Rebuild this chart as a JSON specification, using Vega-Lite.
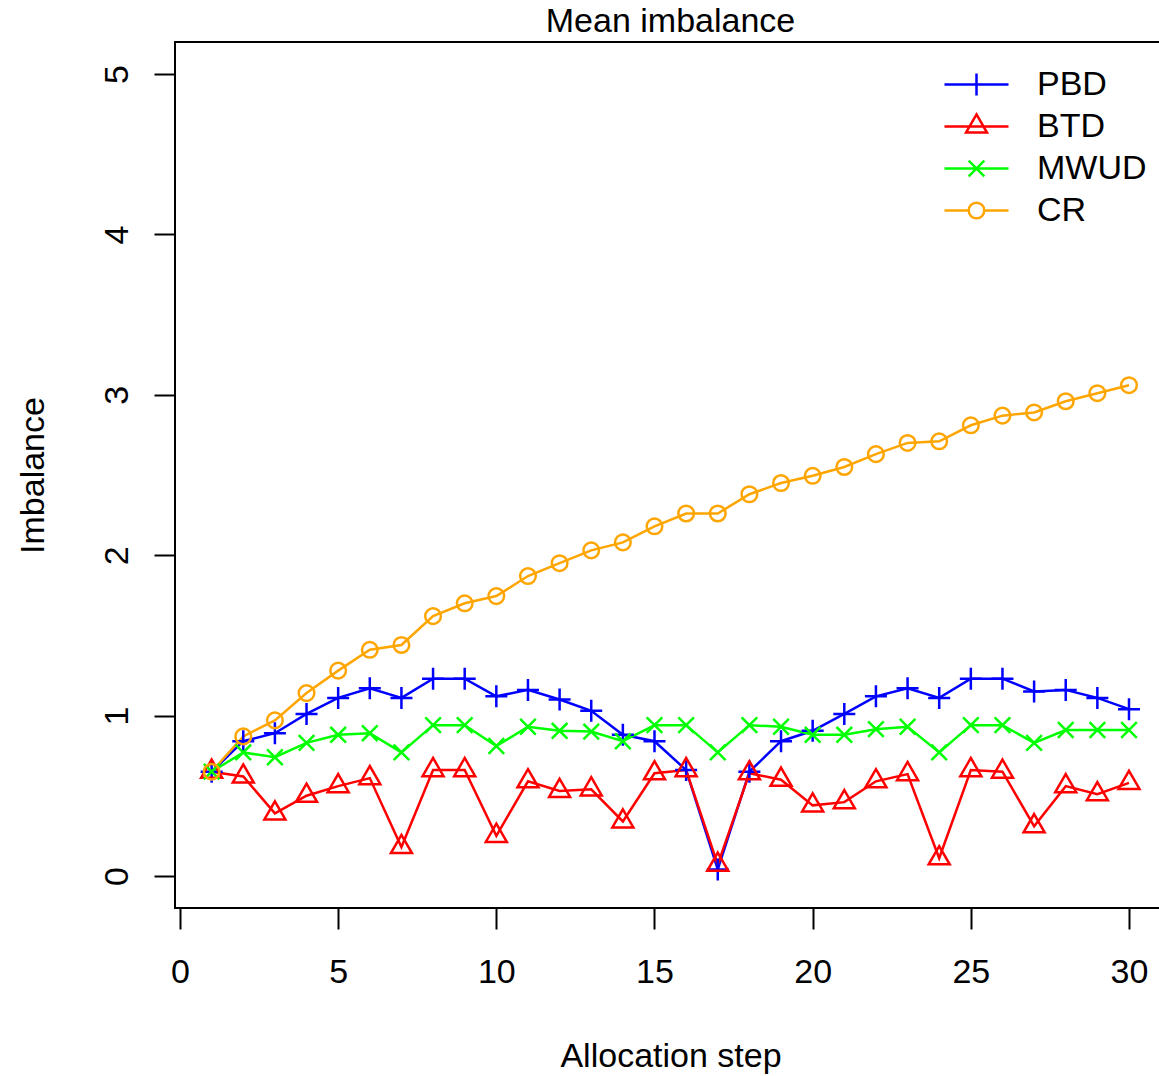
{
  "$schema": "https://vega.github.io/schema/vega-lite/v6.json",
  "autosize": "none",
  "width": 985,
  "height": 866,
  "padding": {"left": 175, "top": 42, "right": 0, "bottom": 168},
  "background": "white",
  "title": {"text": "Mean imbalance", "fontSize": 34, "fontWeight": "normal", "font": "Liberation Sans", "color": "black", "baseline": "alphabetic", "offset": -24, "dx": 3, "anchor": "middle", "frame": "group"},
  "config": {
    "font": "Liberation Sans",
    "view": {"stroke": "black", "strokeWidth": 2, "fill": "white"},
    "axis": {"grid": false, "domain": false, "tickColor": "black", "tickWidth": 2, "tickSize": 21, "labelColor": "black", "labelFontSize": 34, "labelFont": "Liberation Sans", "titleColor": "black", "titleFontSize": 34, "titleFont": "Liberation Sans", "titleFontWeight": "normal", "labelOverlap": false, "labelFlush": false}
  },
  "data": {"values": [
    {"step": 1, "series": "PBD", "value": 0.65}, {"step": 2, "series": "PBD", "value": 0.84}, {"step": 3, "series": "PBD", "value": 0.89}, {"step": 4, "series": "PBD", "value": 1.01}, {"step": 5, "series": "PBD", "value": 1.11},
    {"step": 6, "series": "PBD", "value": 1.17}, {"step": 7, "series": "PBD", "value": 1.11}, {"step": 8, "series": "PBD", "value": 1.23}, {"step": 9, "series": "PBD", "value": 1.23}, {"step": 10, "series": "PBD", "value": 1.12},
    {"step": 11, "series": "PBD", "value": 1.16}, {"step": 12, "series": "PBD", "value": 1.10}, {"step": 13, "series": "PBD", "value": 1.03}, {"step": 14, "series": "PBD", "value": 0.88}, {"step": 15, "series": "PBD", "value": 0.84},
    {"step": 16, "series": "PBD", "value": 0.66}, {"step": 17, "series": "PBD", "value": 0.04}, {"step": 18, "series": "PBD", "value": 0.65}, {"step": 19, "series": "PBD", "value": 0.84}, {"step": 20, "series": "PBD", "value": 0.905},
    {"step": 21, "series": "PBD", "value": 1.01}, {"step": 22, "series": "PBD", "value": 1.12}, {"step": 23, "series": "PBD", "value": 1.17}, {"step": 24, "series": "PBD", "value": 1.11}, {"step": 25, "series": "PBD", "value": 1.23},
    {"step": 26, "series": "PBD", "value": 1.23}, {"step": 27, "series": "PBD", "value": 1.15}, {"step": 28, "series": "PBD", "value": 1.16}, {"step": 29, "series": "PBD", "value": 1.11}, {"step": 30, "series": "PBD", "value": 1.04},
    {"step": 1, "series": "BTD", "value": 0.65}, {"step": 2, "series": "BTD", "value": 0.62}, {"step": 3, "series": "BTD", "value": 0.39}, {"step": 4, "series": "BTD", "value": 0.50}, {"step": 5, "series": "BTD", "value": 0.56},
    {"step": 6, "series": "BTD", "value": 0.61}, {"step": 7, "series": "BTD", "value": 0.18}, {"step": 8, "series": "BTD", "value": 0.66}, {"step": 9, "series": "BTD", "value": 0.66}, {"step": 10, "series": "BTD", "value": 0.25},
    {"step": 11, "series": "BTD", "value": 0.59}, {"step": 12, "series": "BTD", "value": 0.53}, {"step": 13, "series": "BTD", "value": 0.54}, {"step": 14, "series": "BTD", "value": 0.34}, {"step": 15, "series": "BTD", "value": 0.64},
    {"step": 16, "series": "BTD", "value": 0.66}, {"step": 17, "series": "BTD", "value": 0.07}, {"step": 18, "series": "BTD", "value": 0.64}, {"step": 19, "series": "BTD", "value": 0.60}, {"step": 20, "series": "BTD", "value": 0.44},
    {"step": 21, "series": "BTD", "value": 0.46}, {"step": 22, "series": "BTD", "value": 0.59}, {"step": 23, "series": "BTD", "value": 0.635}, {"step": 24, "series": "BTD", "value": 0.11}, {"step": 25, "series": "BTD", "value": 0.66},
    {"step": 26, "series": "BTD", "value": 0.65}, {"step": 27, "series": "BTD", "value": 0.31}, {"step": 28, "series": "BTD", "value": 0.56}, {"step": 29, "series": "BTD", "value": 0.51}, {"step": 30, "series": "BTD", "value": 0.58},
    {"step": 1, "series": "MWUD", "value": 0.65}, {"step": 2, "series": "MWUD", "value": 0.77}, {"step": 3, "series": "MWUD", "value": 0.74}, {"step": 4, "series": "MWUD", "value": 0.83}, {"step": 5, "series": "MWUD", "value": 0.88},
    {"step": 6, "series": "MWUD", "value": 0.89}, {"step": 7, "series": "MWUD", "value": 0.77}, {"step": 8, "series": "MWUD", "value": 0.94}, {"step": 9, "series": "MWUD", "value": 0.94}, {"step": 10, "series": "MWUD", "value": 0.81},
    {"step": 11, "series": "MWUD", "value": 0.93}, {"step": 12, "series": "MWUD", "value": 0.905}, {"step": 13, "series": "MWUD", "value": 0.90}, {"step": 14, "series": "MWUD", "value": 0.84}, {"step": 15, "series": "MWUD", "value": 0.94},
    {"step": 16, "series": "MWUD", "value": 0.94}, {"step": 17, "series": "MWUD", "value": 0.77}, {"step": 18, "series": "MWUD", "value": 0.94}, {"step": 19, "series": "MWUD", "value": 0.93}, {"step": 20, "series": "MWUD", "value": 0.88},
    {"step": 21, "series": "MWUD", "value": 0.88}, {"step": 22, "series": "MWUD", "value": 0.915}, {"step": 23, "series": "MWUD", "value": 0.93}, {"step": 24, "series": "MWUD", "value": 0.77}, {"step": 25, "series": "MWUD", "value": 0.94},
    {"step": 26, "series": "MWUD", "value": 0.94}, {"step": 27, "series": "MWUD", "value": 0.83}, {"step": 28, "series": "MWUD", "value": 0.91}, {"step": 29, "series": "MWUD", "value": 0.91}, {"step": 30, "series": "MWUD", "value": 0.91},
    {"step": 1, "series": "CR", "value": 0.65}, {"step": 2, "series": "CR", "value": 0.87}, {"step": 3, "series": "CR", "value": 0.97}, {"step": 4, "series": "CR", "value": 1.14}, {"step": 5, "series": "CR", "value": 1.28},
    {"step": 6, "series": "CR", "value": 1.41}, {"step": 7, "series": "CR", "value": 1.44}, {"step": 8, "series": "CR", "value": 1.62}, {"step": 9, "series": "CR", "value": 1.70}, {"step": 10, "series": "CR", "value": 1.745},
    {"step": 11, "series": "CR", "value": 1.87}, {"step": 12, "series": "CR", "value": 1.95}, {"step": 13, "series": "CR", "value": 2.03}, {"step": 14, "series": "CR", "value": 2.08}, {"step": 15, "series": "CR", "value": 2.18},
    {"step": 16, "series": "CR", "value": 2.26}, {"step": 17, "series": "CR", "value": 2.26}, {"step": 18, "series": "CR", "value": 2.38}, {"step": 19, "series": "CR", "value": 2.45}, {"step": 20, "series": "CR", "value": 2.495},
    {"step": 21, "series": "CR", "value": 2.55}, {"step": 22, "series": "CR", "value": 2.63}, {"step": 23, "series": "CR", "value": 2.70}, {"step": 24, "series": "CR", "value": 2.71}, {"step": 25, "series": "CR", "value": 2.81},
    {"step": 26, "series": "CR", "value": 2.87}, {"step": 27, "series": "CR", "value": 2.89}, {"step": 28, "series": "CR", "value": 2.96}, {"step": 29, "series": "CR", "value": 3.01}, {"step": 30, "series": "CR", "value": 3.06}
  ]},
  "encoding": {
    "x": {"field": "step", "type": "quantitative", "scale": {"domain": [-0.158, 30.98], "nice": false, "zero": false},
      "axis": {"values": [0, 5, 10, 15, 20, 25, 30], "title": "Allocation step", "labelBaseline": "alphabetic", "labelPadding": 53, "titleBaseline": "alphabetic", "titleAlign": "center", "titleX": 495.5, "titleY": 158}},
    "y": {"field": "value", "type": "quantitative", "scale": {"domain": [-0.2, 5.2], "nice": false, "zero": false},
      "axis": {"values": [0, 1, 2, 3, 4, 5], "title": "Imbalance", "labelAngle": 270, "labelAlign": "center", "labelBaseline": "alphabetic", "labelPadding": 27, "titleAngle": 270, "titleBaseline": "alphabetic", "titleAlign": "center", "titleX": -132, "titleY": 433}}
  },
  "layer": [
    {
      "mark": {"type": "line", "strokeWidth": 2.5},
      "encoding": {
        "color": {"field": "series", "type": "nominal", "scale": {"domain": ["PBD", "BTD", "MWUD", "CR"], "range": ["#0000ff", "#ff0000", "#00ff00", "#ffa500"]}, "legend": null}
      }
    },
    {
      "mark": {"type": "point", "filled": false, "strokeWidth": 2.5, "size": 484, "opacity": 1},
      "encoding": {
        "color": {"field": "series", "type": "nominal", "scale": {"domain": ["PBD", "BTD", "MWUD", "CR"], "range": ["#0000ff", "#ff0000", "#00ff00", "#ffa500"]}, "legend": null},
        "shape": {"field": "series", "type": "nominal", "scale": {"domain": ["PBD", "BTD", "MWUD", "CR"], "range": [
          "M0,-1V1M-1,0H1",
          "M0,-1.1L0.955,0.55L-0.955,0.55Z",
          "M-0.709,-0.709L0.709,0.709M-0.709,0.709L0.709,-0.709",
          "M0.709,0A0.709,0.709 0 1,1 -0.709,0A0.709,0.709 0 1,1 0.709,0Z"
        ]}, "legend": null}
      }
    },
    {
      "mark": {"type": "point", "filled": false, "strokeWidth": 2.5, "opacity": 0},
      "encoding": {
        "color": {"field": "series", "type": "nominal", "scale": {"domain": ["PBD", "BTD", "MWUD", "CR"], "range": ["#0000ff", "#ff0000", "#00ff00", "#ffa500"]},
          "legend": {"title": null, "orient": "none", "legendX": 779, "legendY": 20, "padding": 0, "rowPadding": 2, "symbolSize": 1764, "symbolStrokeWidth": 2.5, "symbolOpacity": 1, "labelFontSize": 34, "labelColor": "black", "labelFont": "Liberation Sans", "labelOffset": 38, "labelLimit": 400}},
        "shape": {"field": "series", "type": "nominal", "scale": {"domain": ["PBD", "BTD", "MWUD", "CR"], "range": [
          "M-1.524,0H1.524M0,-0.524V0.524",
          "M-1.524,0H1.524M0,-0.576L0.5,0.289L-0.5,0.289Z",
          "M-1.524,0H1.524M-0.371,-0.371L0.371,0.371M-0.371,0.371L0.371,-0.371",
          "M-1.524,0H-0.371M0.371,0H1.524M0.371,0A0.371,0.371 0 1,1 -0.371,0A0.371,0.371 0 1,1 0.371,0Z"
        ]},
          "legend": {"title": null, "orient": "none", "legendX": 779, "legendY": 20, "padding": 0, "rowPadding": 2, "symbolSize": 1764, "symbolStrokeWidth": 2.5, "symbolOpacity": 1, "labelFontSize": 34, "labelColor": "black", "labelFont": "Liberation Sans", "labelOffset": 38, "labelLimit": 400}}
      }
    }
  ],
  "resolve": {"scale": {"color": "independent", "shape": "independent"}, "legend": {"color": "independent", "shape": "independent"}}
}
